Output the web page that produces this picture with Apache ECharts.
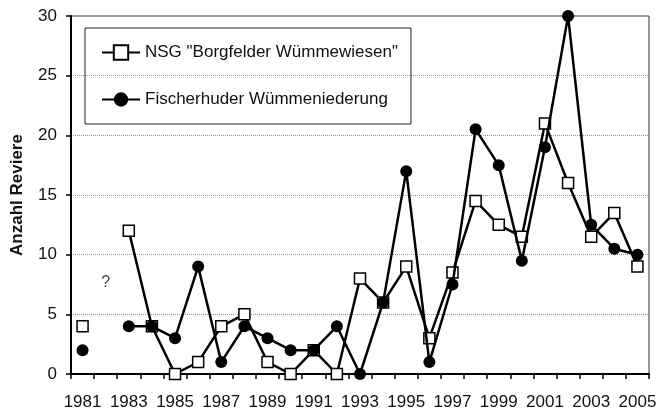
<!DOCTYPE html>
<html>
<head>
<meta charset="utf-8">
<script src="https://cdn.jsdelivr.net/npm/echarts@6/dist/echarts.min.js"></script>
<style>html,body{margin:0;padding:0;background:#fff;}#c{width:665px;height:411px;}</style>
</head>
<body>
<div id="c"></div>
<script>
var years = ['1981','1982','1983','1984','1985','1986','1987','1988','1989','1990','1991','1992','1993','1994','1995','1996','1997','1998','1999','2000','2001','2002','2003','2004','2005'];
var nsgValues = [4, null, 12, 4, 0, 1, 4, 5, 1, 0, 2, 0, 8, 6, 9, 3, 8.5, 14.5, 12.5, 11.5, 21, 16, 11.5, 13.5, 9];
var fischValues = [2, null, 4, 4, 3, 9, 1, 4, 3, 2, 2, 4, 0, 6, 17, 1, 7.5, 20.5, 17.5, 9.5, 19, 30, 12.5, 10.5, 10];
var nsgName = 'NSG "Borgfelder Wümmewiesen"';
var fischName = 'Fischerhuder Wümmeniederung';
var unknownMark = [['1982', 7.7]];
var yTicks = [0, 5, 10, 15, 20, 25, 30];

var font = '"Liberation Sans", Arial, sans-serif';
var chart = echarts.init(document.getElementById('c'));
chart.setOption({
  animation: false,
  backgroundColor: '#fff',
  textStyle: {fontFamily: font},
  grid: {left: 71, right: 16, top: 16, bottom: 37, show: true, borderColor: '#333', borderWidth: 1},
  legend: {
    data: [nsgName, fischName],
    orient: 'vertical',
    left: 85, top: 28,
    padding: [16, 13, 16, 16],
    itemGap: 30,
    itemWidth: 38, itemHeight: 18,
    borderColor: '#222', borderWidth: 1,
    textStyle: {fontSize: 17, color: '#111', fontFamily: font}
  },
  xAxis: {
    type: 'category',
    data: years,
    boundaryGap: true,
    axisLine: {lineStyle: {color: '#000', width: 2}},
    axisTick: {show: true, length: 5, interval: 0, lineStyle: {color: '#000', width: 1.5}},
    axisLabel: {interval: 1, fontSize: 17, color: '#111', margin: 20, fontFamily: font},
    splitLine: {show: false}
  },
  yAxis: {
    type: 'value',
    min: yTicks[0], max: yTicks[yTicks.length - 1], interval: 5,
    name: 'Anzahl Reviere',
    nameLocation: 'middle',
    nameGap: 45,
    nameTextStyle: {fontSize: 17, fontWeight: 'bold', color: '#111', fontFamily: font},
    axisLine: {show: true, lineStyle: {color: '#000', width: 2}},
    axisTick: {show: true, length: 5, lineStyle: {color: '#000', width: 1.5}},
    axisLabel: {fontSize: 17, color: '#111', margin: 14, fontFamily: font},
    splitLine: {show: true, lineStyle: {color: '#999', type: 'dotted', width: 1}}
  },
  series: [
    {
      name: nsgName, type: 'line', data: nsgValues,
      symbol: 'rect', symbolSize: 11,
      lineStyle: {color: '#000', width: 2.5},
      itemStyle: {color: '#fff', borderColor: '#000', borderWidth: 1.5},
      z: 2
    },
    {
      name: fischName, type: 'line', data: fischValues,
      symbol: 'circle', symbolSize: 12,
      lineStyle: {color: '#000', width: 2.5},
      itemStyle: {color: '#000', borderColor: '#000', borderWidth: 0},
      z: 3
    },
    {
      name: 'unknown', type: 'scatter', data: unknownMark,
      symbolSize: 1, itemStyle: {color: 'rgba(0,0,0,0)'},
      label: {show: true, formatter: '?', position: 'inside', fontSize: 16, color: '#111', fontFamily: font},
      silent: true
    }
  ]
});
</script>
</body>
</html>
